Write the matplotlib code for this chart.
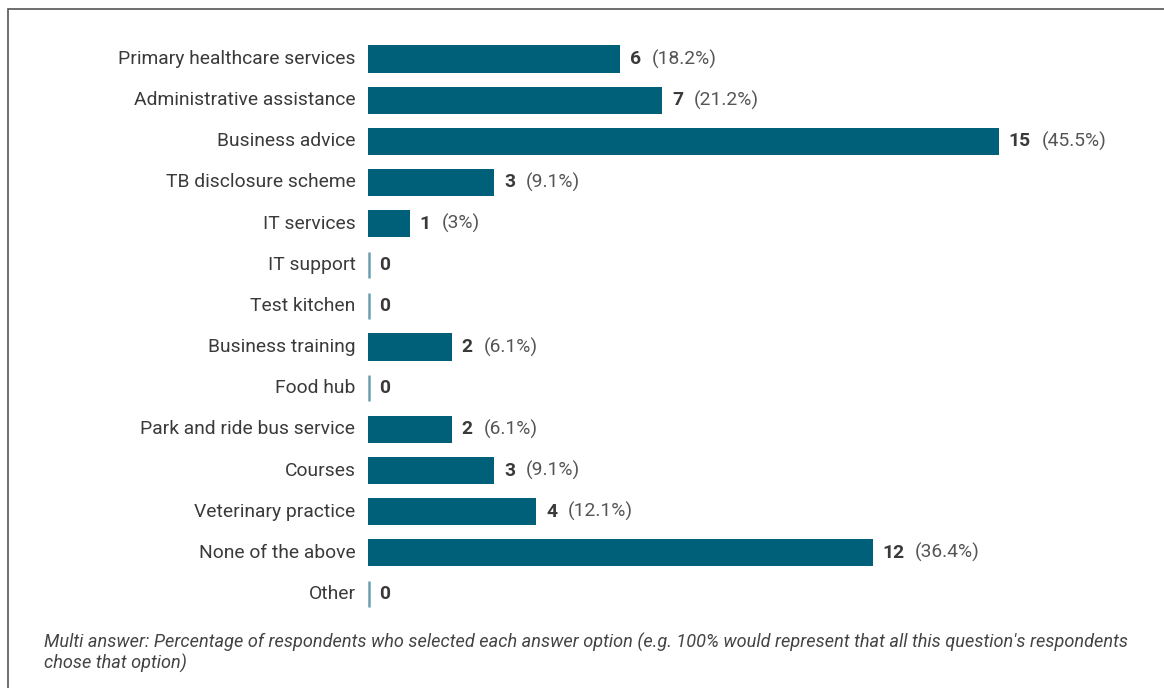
import matplotlib
matplotlib.use("Agg")
import matplotlib.pyplot as plt
from matplotlib.patches import Rectangle

plt.rcParams['font.family'] = ['Roboto', 'DejaVu Sans']

# answers and counts, top to bottom
categories = ["Primary healthcare services", "Administrative assistance", "Business advice",
              "TB disclosure scheme", "IT services", "IT support", "Test kitchen",
              "Business training", "Food hub", "Park and ride bus service", "Courses",
              "Veterinary practice", "None of the above", "Other"]
counts = [6, 7, 15, 3, 1, 0, 0, 2, 0, 2, 3, 4, 12, 0]
percents = ["18.2%", "21.2%", "45.5%", "9.1%", "3%", "", "", "6.1%", "", "6.1%", "9.1%",
            "12.1%", "36.4%", ""]

footnote_lines = ["Multi answer: Percentage of respondents who selected each answer option "
                  "(e.g. 100% would represent that all this question's respondents",
                  "chose that option)"]

bar_color = "#006079"
zero_color = "#6a9fae"
text_color = "#3a3a3a"
fs = 13.85

W, H = 1164, 688
fig = plt.figure(figsize=(W / 100, H / 100), dpi=100)

# outer frame
fig.patches.append(Rectangle((8 / W, -0.1), 1.2, (H - 9) / H + 0.1, transform=fig.transFigure,
                             fill=False, edgecolor="#555555", linewidth=1.2))

# axes placed in pixel space
ax_left, ax_right = 368, 1164
row_h = 41.15
top = 59 - row_h / 2
bottom = 594 + row_h / 2
ax = fig.add_axes([ax_left / W, 1 - bottom / H, (ax_right - ax_left) / W, (bottom - top) / H])
ax.set_xlim(0, (ax_right - ax_left) / 42.07)
ax.set_ylim(len(categories) - 0.5, -0.5)
ax.axis("off")

ys = list(range(len(categories)))
nz = [i for i in ys if counts[i] > 0]
ax.barh([ys[i] for i in nz], [counts[i] for i in nz], height=0.66, color=bar_color)
zy = [i for i in ys if counts[i] == 0]
ax.vlines([0.03] * len(zy), [y - 0.32 for y in zy], [y + 0.32 for y in zy],
          color=zero_color, linewidth=1.8)

fig.canvas.draw()
renderer = fig.canvas.get_renderer()
for y, lab, c, p in zip(ys, categories, counts, percents):
    ax.annotate(lab, (0, y), xytext=(-9, 0), textcoords="offset points",
                ha="right", va="center", fontsize=fs, color=text_color)
    t = ax.annotate(str(c), (c, y), xytext=(7 if c else 8, 0), textcoords="offset points",
                    ha="left", va="center", fontsize=fs, fontweight="bold", color=text_color)
    if p:
        w = t.get_window_extent(renderer).width * 72 / fig.dpi
        ax.annotate("(" + p + ")", (c, y), xytext=(7 + w + 7.5, 0), textcoords="offset points",
                    ha="left", va="center", fontsize=fs, color="#555555")

for k, line in enumerate(footnote_lines):
    fig.text(44 / W, 1 - (642 + 21 * k) / H, line, ha="left", va="center", fontsize=13.05,
             style="italic", color="#444444")

fig.savefig("out.png", dpi=100, facecolor="white")
